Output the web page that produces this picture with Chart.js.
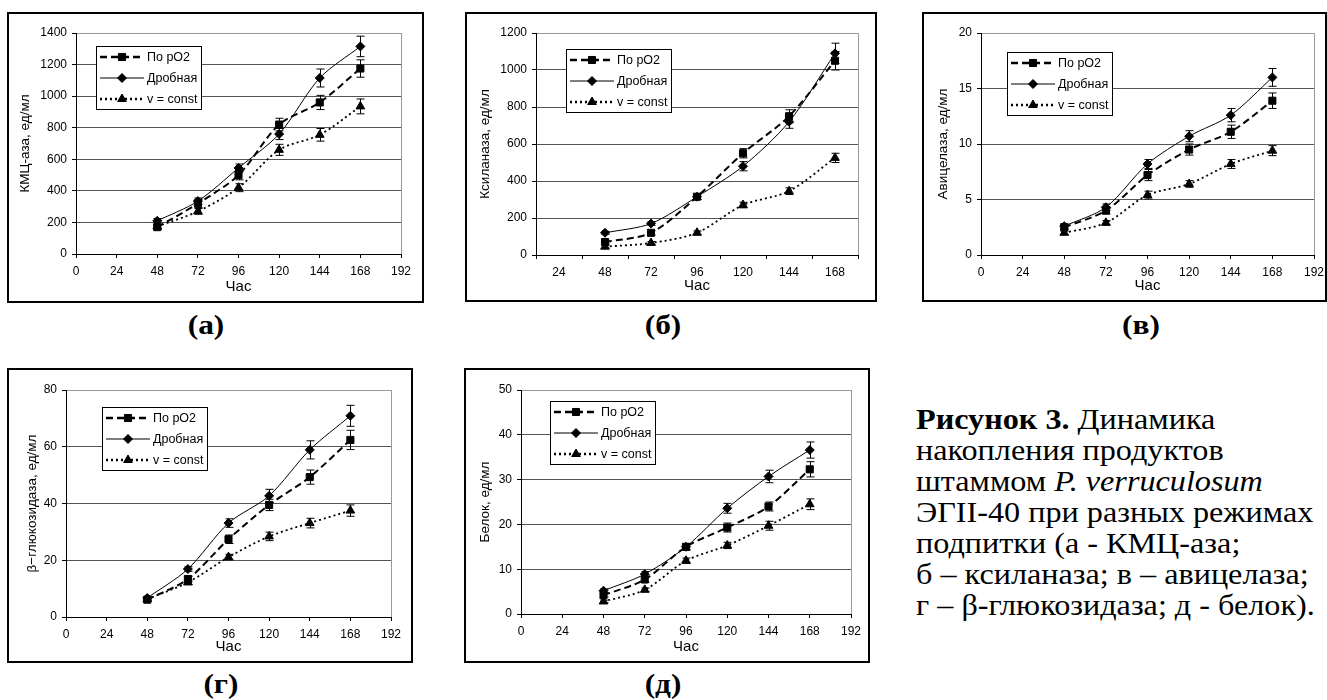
<!DOCTYPE html>
<html>
<head>
<meta charset="utf-8">
<script src="https://cdn.jsdelivr.net/npm/chart.js@4.4.0/dist/chart.umd.min.js"></script>
<style>
  body { margin: 0; background: #fff; width: 1327px; height: 700px; position: relative; overflow: hidden; }
  canvas { position: absolute; }
  .cap { position: absolute; font: bold 28px/30px "Liberation Serif", serif; transform: translateX(-50%) scaleX(1.12); white-space: nowrap; }
  #note { position: absolute; left: 916px; top: 404px; font: 29px/31px "Liberation Serif", serif; white-space: nowrap;
          transform: scaleX(1.11); transform-origin: left top; }
</style>
</head>
<body>
<canvas id="pa"></canvas>
<canvas id="pb"></canvas>
<canvas id="pv"></canvas>
<canvas id="pg"></canvas>
<canvas id="pd"></canvas>

<div class="cap" style="left:206px;top:310px">(а)</div>
<div class="cap" style="left:663px;top:310px">(б)</div>
<div class="cap" style="left:1141px;top:310px">(в)</div>
<div class="cap" style="left:221px;top:669px">(г)</div>
<div class="cap" style="left:663px;top:669px">(д)</div>

<div id="note"><b>Рисунок 3.</b> Динамика<br>накопления продуктов<br>штаммом <i>P. verruculosum</i><br>ЭГII-40 при разных режимах<br>подпитки (а - КМЦ-аза;<br>б – ксиланаза; в – авицелаза;<br>г – β-глюкозидаза; д - белок).</div>

<script>
// sampling times, hours
const hours = [48, 72, 96, 120, 144, 168];
// xylanase panel uses a category axis with these labels
const hourLabels = ['24', '48', '72', '96', '120', '144', '168'];
const seriesNames = ['По pO2', 'Дробная', 'v = const'];

// КМЦ-аза
const cmcPO2 = [170, 320, 500, 820, 960, 1175];
const cmcPO2Err = [15, 25, 30, 40, 45, 55];
const cmcFrac = [210, 335, 545, 760, 1115, 1315];
const cmcFracErr = [15, 20, 25, 35, 57, 65];
const cmcConst = [175, 270, 420, 660, 755, 935];
const cmcConstErr = [12, 18, 25, 35, 40, 47];

// ксиланаза
const xylPO2 = [70, 120, 315, 550, 750, 1050];
const xylPO2Err = [10, 12, 15, 25, 35, 50];
const xylFrac = [120, 170, 315, 480, 720, 1090];
const xylFracErr = [8, 10, 15, 25, 35, 55];
const xylConst = [45, 65, 120, 270, 345, 525];
const xylConstErr = [8, 8, 10, 15, 18, 25];

// авицелаза
const aviPO2 = [2.5, 4.0, 7.2, 9.5, 11.1, 13.9];
const aviPO2Err = [0.2, 0.3, 0.5, 0.5, 0.6, 0.7];
const aviFrac = [2.6, 4.3, 8.2, 10.7, 12.6, 16.0];
const aviFracErr = [0.2, 0.3, 0.4, 0.5, 0.6, 0.8];
const aviConst = [2.0, 2.9, 5.4, 6.4, 8.2, 9.4];
const aviConstErr = [0.15, 0.2, 0.35, 0.3, 0.4, 0.45];

// β-глюкозидаза
const bglPO2 = [6.1, 13.4, 27.4, 39.5, 49.3, 62.4];
const bglPO2Err = [0.5, 1.0, 1.5, 2.0, 2.5, 3.4];
const bglFrac = [6.7, 16.9, 33.1, 42.7, 58.9, 70.9];
const bglFracErr = [0.5, 0.8, 1.5, 2.3, 3.2, 3.7];
const bglConst = [6.3, 12.2, 21.1, 28.4, 33.1, 37.5];
const bglConstErr = [0.4, 0.8, 1.0, 1.5, 1.7, 2.0];

// белок
const protPO2 = [4.2, 7.7, 15.0, 19.3, 24.0, 32.3];
const protPO2Err = [0.4, 0.6, 0.7, 1.0, 1.0, 1.7];
const protFrac = [5.2, 8.9, 15.0, 23.6, 30.7, 36.6];
const protFracErr = [0.4, 0.6, 0.7, 1.1, 1.4, 1.8];
const protConst = [2.8, 5.4, 11.9, 15.3, 19.7, 24.5];
const protConstErr = [0.3, 0.4, 0.6, 0.7, 1.0, 1.2];

const SANS = '"Liberation Sans", Arial, sans-serif';

// line/marker look of the three feeding modes
const seriesStyle = [
    { dash: [7, 4], width: 2, legendWidth: 2.5, point: 'rect', radius: 5 },
    { dash: [], width: 1, legendWidth: 1, point: 'rectRot', radius: 4.5 },
    { dash: [2, 3], width: 1.8, legendWidth: 2.5, point: 'triangle', radius: 5 }
];

// panel frame + grey plot-area outline
const framePlugin = {
    id: 'framePlugin',
    beforeDraw(chart) {
        const ctx = chart.ctx, a = chart.chartArea;
        ctx.save();
        ctx.strokeStyle = '#9a9a9a';
        ctx.lineWidth = 1;
        ctx.strokeRect(a.left + 0.5, a.top + 0.5, a.right - a.left, a.bottom - a.top);
        ctx.restore();
    },
    afterDraw(chart) {
        const ctx = chart.ctx;
        ctx.save();
        ctx.strokeStyle = '#000';
        ctx.lineWidth = 2;
        ctx.strokeRect(1, 1, chart.width - 2, chart.height - 2);
        ctx.restore();
    }
};

// vertical error bars with caps
const errorBars = {
    id: 'errorBars',
    afterDatasetsDraw(chart) {
        const ctx = chart.ctx, ys = chart.scales.y;
        ctx.save();
        ctx.strokeStyle = '#000';
        ctx.lineWidth = 1;
        ctx.setLineDash([]);
        chart.data.datasets.forEach((ds, i) => {
            const meta = chart.getDatasetMeta(i);
            meta.data.forEach((pt, j) => {
                const d = ds.data[j];
                const v = (d !== null && typeof d === 'object') ? d.y : d;
                if (v == null || ds.err[j] == null) return;
                const x = Math.round(pt.x) + 0.5;
                const top = ys.getPixelForValue(v + ds.err[j]);
                const bot = ys.getPixelForValue(v - ds.err[j]);
                ctx.beginPath();
                ctx.moveTo(x, top); ctx.lineTo(x, bot);
                ctx.moveTo(x - 4, top); ctx.lineTo(x + 4, top);
                ctx.moveTo(x - 4, bot); ctx.lineTo(x + 4, bot);
                ctx.stroke();
            });
        });
        ctx.restore();
    }
};

// boxed legend inside the plot, line sample with marker
const boxLegend = {
    id: 'boxLegend',
    afterDraw(chart, args, opts) {
        const ctx = chart.ctx, a = chart.chartArea;
        const x = Math.round(a.left + opts.x), y = Math.round(a.top + opts.y);
        const w = 105, h = 63;
        ctx.save();
        ctx.fillStyle = '#fff';
        ctx.fillRect(x, y, w, h);
        ctx.strokeStyle = '#000';
        ctx.lineWidth = 1;
        ctx.strokeRect(x + 0.5, y + 0.5, w, h);
        chart.data.datasets.forEach((ds, i) => {
            const st = seriesStyle[i];
            const cy = y + 11 + i * 21;
            ctx.strokeStyle = '#000';
            ctx.lineWidth = st.legendWidth;
            ctx.setLineDash(st.dash);
            ctx.beginPath();
            ctx.moveTo(x + 4, cy); ctx.lineTo(x + 48, cy);
            ctx.stroke();
            ctx.setLineDash([]);
            ctx.fillStyle = '#000';
            ctx.lineWidth = 1;
            Chart.helpers.drawPoint(ctx, { pointStyle: st.point, radius: st.radius, borderWidth: 1, rotation: 0 }, x + 26, cy);
            ctx.font = '12.5px ' + SANS;
            ctx.textBaseline = 'middle';
            ctx.fillText(ds.label, x + 51, cy + 1);
        });
        ctx.restore();
    }
};

const panels = [
    { id: 'pa', box: [7, 12, 417, 291], yW: 69, top: 21, right: 23, xH: 49, yMax: 1400, yStep: 200,
      yTitle: 'КМЦ-аза, ед/мл', titlePad: 10, legend: [20, 13],
      values: [cmcPO2, cmcFrac, cmcConst], errs: [cmcPO2Err, cmcFracErr, cmcConstErr] },
    { id: 'pb', box: [465, 12, 412, 290], yW: 71, top: 21, right: 19, xH: 47, yMax: 1200, yStep: 200,
      yTitle: 'Ксиланаза, ед/мл', titlePad: 12, legend: [30, 16], category: true,
      values: [xylPO2, xylFrac, xylConst], errs: [xylPO2Err, xylFracErr, xylConstErr] },
    { id: 'pv', box: [922, 12, 405, 290], yW: 59, top: 21, right: 13, xH: 47, yMax: 20, yStep: 5,
      yTitle: 'Авицелаза, ед/мл', titlePad: 13, legend: [26, 19],
      values: [aviPO2, aviFrac, aviConst], errs: [aviPO2Err, aviFracErr, aviConstErr] },
    { id: 'pg', box: [7, 368, 406, 295], yW: 59, top: 22, right: 22, xH: 46, yMax: 80, yStep: 20,
      yTitle: 'β−глюкозидаза, ед/мл', titlePad: 17, legend: [36, 17],
      values: [bglPO2, bglFrac, bglConst], errs: [bglPO2Err, bglFracErr, bglConstErr] },
    { id: 'pd', box: [464, 368, 406, 295], yW: 57, top: 22, right: 19, xH: 49, yMax: 50, yStep: 10,
      yTitle: 'Белок, ед/мл', titlePad: 13, legend: [29, 11],
      values: [protPO2, protFrac, protConst], errs: [protPO2Err, protFracErr, protConstErr] }
];

function buildPanel(p) {
    const cv = document.getElementById(p.id);
    const [bx, by, bw, bh] = p.box;
    cv.width = bw; cv.height = bh;
    cv.style.left = bx + 'px'; cv.style.top = by + 'px';
    cv.style.width = bw + 'px'; cv.style.height = bh + 'px';

    const datasets = p.values.map((vals, i) => {
        const st = seriesStyle[i];
        const data = p.category ? [null, ...vals] : vals.map((v, j) => ({ x: hours[j], y: v }));
        const err = p.category ? [null, ...p.errs[i]] : p.errs[i];
        return {
            label: seriesNames[i],
            data: data,
            err: err,
            borderColor: '#000',
            backgroundColor: '#000',
            borderWidth: st.width,
            borderDash: st.dash,
            pointStyle: st.point,
            pointRadius: st.radius,
            pointBorderWidth: 1,
            tension: 0.3,
            spanGaps: true
        };
    });

    const xScale = p.category ? {
        type: 'category',
        offset: true,
        grid: { offset: true, drawOnChartArea: false, drawTicks: true, tickLength: 4, tickColor: '#000' }
    } : {
        type: 'linear',
        min: 0, max: 192,
        grid: { drawOnChartArea: false, drawTicks: true, tickLength: 4, tickColor: '#000' }
    };
    Object.assign(xScale, {
        border: { color: '#000', width: 1 },
        ticks: { stepSize: 24, color: '#000', padding: 6, maxRotation: 0, autoSkip: false, font: { family: SANS, size: 12 } },
        title: { display: true, text: 'Час', color: '#000', font: { family: SANS, size: 15 }, padding: { top: 0, bottom: 7 } },
        afterFit(s) { s.height = p.xH; s.paddingLeft = 0; s.paddingRight = 0; }
    });

    new Chart(cv.getContext('2d'), {
        type: 'line',
        data: { labels: p.category ? hourLabels : undefined, datasets: datasets },
        options: {
            responsive: false,
            animation: false,
            devicePixelRatio: 1,
            layout: { padding: { top: p.top, right: p.right, left: 0, bottom: 0 } },
            scales: {
                x: xScale,
                y: {
                    min: 0, max: p.yMax,
                    border: { color: '#000', width: 1 },
                    grid: {
                        color: (c) => c.tick && c.tick.value === p.yMax ? '#9a9a9a' : '#555',
                        drawTicks: true, tickLength: 4, tickColor: '#000'
                    },
                    ticks: { stepSize: p.yStep, color: '#000', padding: 5, font: { family: SANS, size: 12 },
                             callback: (v) => String(v) },
                    title: { display: true, text: p.yTitle, color: '#000', font: { family: SANS, size: 13.5 }, padding: { top: p.titlePad, bottom: 0 } },
                    afterFit(s) { s.width = p.yW; s.paddingTop = 0; s.paddingBottom = 0; }
                }
            },
            plugins: {
                legend: { display: false },
                tooltip: { enabled: false },
                boxLegend: { x: p.legend[0], y: p.legend[1] }
            }
        },
        plugins: [framePlugin, errorBars, boxLegend]
    });
}

panels.forEach(buildPanel);
</script>
</body>
</html>
